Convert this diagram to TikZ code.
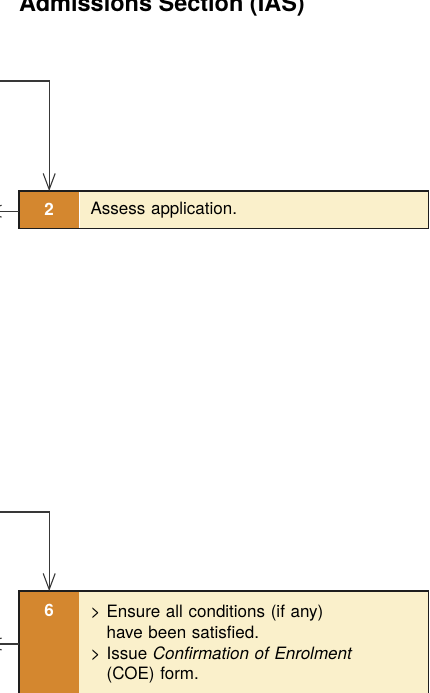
\documentclass[tikz,border=0pt]{standalone}
\usepackage{fontspec}
\setmainfont{TeX Gyre Heros}
\usepackage{xcolor}
\usepackage{tikz}
\usetikzlibrary{calc,positioning,arrows.meta,backgrounds}
\definecolor{stepfill}{HTML}{D4872F}
\definecolor{notefill}{HTML}{FAF0CB}
\definecolor{wire}{HTML}{383838}
\definecolor{edge}{HTML}{1E1E1E}
\tikzset{
  flow/.style={draw=wire, line width=1.1pt, -{Straight Barb[length=16pt,width=12pt]}},
  backflow/.style={draw=wire, line width=1.1pt, -{Straight Barb[length=16pt,width=12pt]}},
  numcell/.style={fill=stepfill, inner sep=0pt, minimum width=60pt, text=white,
    font=\fontsize{17}{20.7}\selectfont\bfseries},
  notecell/.style={fill=notefill, inner xsep=11pt, inner ysep=0pt, text width=327pt,
    align=left, font=\fontsize{17}{20.7}\selectfont},
  frame/.style={draw=edge, line width=1.3pt},
  heading/.style={font=\fontsize{23.5}{27}\selectfont\bfseries, inner sep=0pt}
}
\newcommand{\bul}{\makebox[16pt][l]{>}}

\begin{document}
\begin{tikzpicture}[x=1pt, y=-1pt]
  \useasboundingbox (0,0) rectangle (429,693);

  \node[heading, anchor=base west] (head) at (19,12) {Admissions Section (IAS)};

  % step 2
  \node[numcell, minimum height=37pt, anchor=north west] (n2) at (19,191) {2};
  \node[notecell, minimum height=37pt, right=0pt of n2] (t2) {Assess application.};
  \draw[frame] (n2.north west) rectangle (t2.south east);

  \coordinate (in2) at (-5,81);
  \draw[flow] (in2) -| (n2.north);
  \coordinate (out2) at ($(n2.west)+(-35,1.5)$);
  \draw[backflow] ($(n2.west)+(0,1.5)$) -- (out2);

  % step 6
  \node[numcell, minimum height=120pt, anchor=north west] (n6) at (19,591) {};
  \node[numcell, fill=none, below=13pt of n6.north] (k6) {6};
  \node[notecell, fill=none, anchor=north west, inner ysep=14pt] (t6) at (n6.north east)
    {\bul Ensure all conditions (if any)\\
     \hspace*{16pt}have been satisfied.\\
     \bul Issue \textit{Confirmation of Enrolment}\\
     \hspace*{16pt}(COE) form.};
  \begin{scope}[on background layer]
    \fill[notefill] (n6.north east) rectangle (t6.east |- n6.south);
  \end{scope}
  \draw[frame] (n6.north west) rectangle (t6.east |- n6.south);

  \coordinate (in6) at (-5,512);
  \draw[flow] (in6) -| (n6.north);
  \coordinate (out6) at ($(n6.north west)+(-35,53)$);
  \draw[backflow] ($(n6.north west)+(0,53)$) -- (out6);
\end{tikzpicture}
\end{document}
